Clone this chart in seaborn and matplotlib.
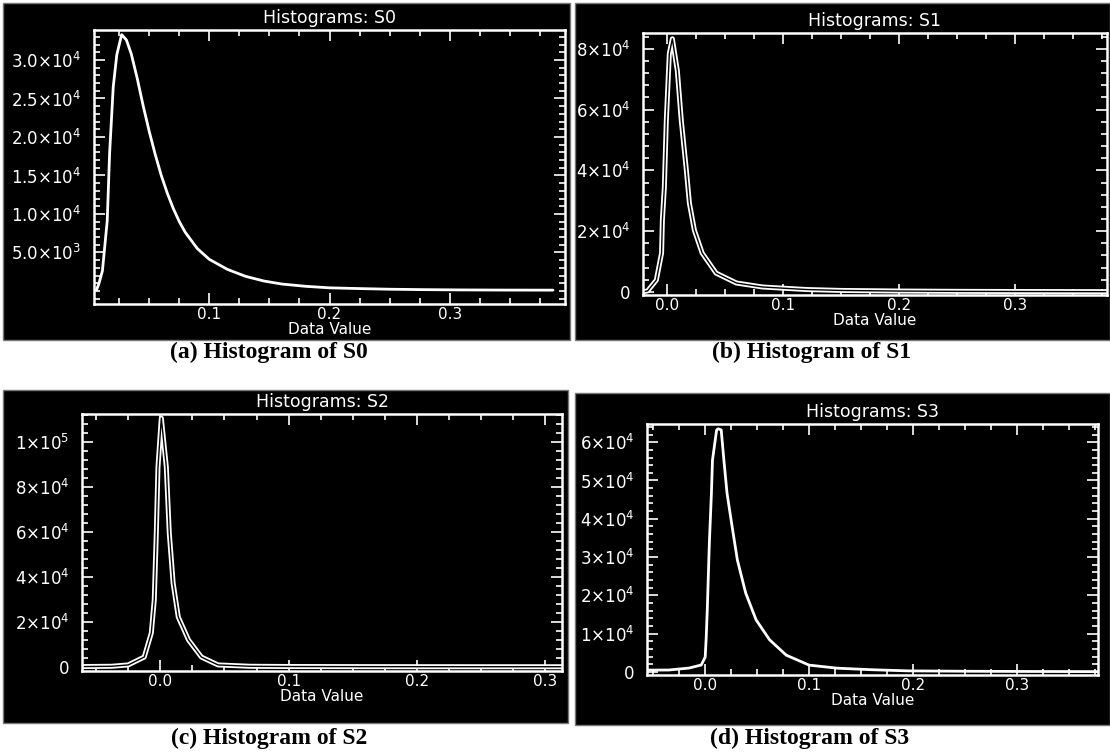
import numpy as np
import pandas as pd
import matplotlib
matplotlib.use("Agg")
import matplotlib.pyplot as plt
import seaborn as sns
from matplotlib.ticker import AutoMinorLocator, FixedLocator
from matplotlib.patches import Rectangle

# ---------------- data ----------------
s0_x = [0.006, 0.008, 0.011, 0.015, 0.017, 0.020, 0.023, 0.027, 0.031, 0.035,
        0.040, 0.045, 0.050, 0.055, 0.060, 0.065, 0.070, 0.075, 0.080, 0.090,
        0.100, 0.115, 0.130, 0.145, 0.160, 0.180, 0.200, 0.226, 0.250, 0.276,
        0.309, 0.342, 0.386]
s0_y = [100, 900, 2600, 9100, 17900, 26500, 30700, 33300, 32600, 30800,
        27600, 24000, 20700, 17700, 15000, 12700, 10700, 9000, 7600, 5500,
        4100, 2800, 1900, 1300, 900, 600, 400, 300, 220, 170,
        130, 110, 100]

s1_x = [-0.020, -0.017, -0.0095, -0.005, -0.0043, -0.0026, -0.0009, 0.0017, 0.0043,
        0.0086, 0.012, 0.0164, 0.019, 0.0233, 0.030, 0.042, 0.0595, 0.082, 0.097,
        0.12, 0.15, 0.20, 0.25, 0.30, 0.379]
s1_y = [100, 350, 3900, 12800, 23600, 34400, 56400, 78400, 83300,
        72800, 56400, 40000, 29200, 20300, 12800, 6200, 2950, 1640, 1300,
        800, 500, 300, 200, 150, 100]

s2_x = [-0.061, -0.056, -0.038, -0.025, -0.0125, -0.007, -0.0047, -0.0031, -0.0018,
        0.0008, 0.0047, 0.007, 0.010, 0.014, 0.022, 0.032, 0.045, 0.070, 0.10,
        0.15, 0.20, 0.25, 0.313]
s2_y = [150, 200, 300, 900, 4400, 15100, 29800, 59500, 88800,
        110600, 88800, 59500, 37300, 22200, 12000, 4400, 900, 300, 200,
        150, 120, 100, 100]

s3_x = [-0.056, -0.035, -0.0154, -0.0038, 0.0, 0.001, 0.002, 0.004, 0.006, 0.007,
        0.011, 0.0125, 0.0154, 0.018, 0.021, 0.026, 0.031, 0.039, 0.049, 0.062,
        0.078, 0.100, 0.127, 0.16, 0.195, 0.25, 0.30, 0.378]
s3_y = [500, 520, 1040, 1830, 3900, 9100, 16200, 33700, 46700, 55300,
        63200, 63500, 63200, 55300, 46700, 37800, 29200, 20600, 13600, 8400,
        4400, 1800, 1000, 600, 300, 200, 150, 100]

titles = ["Histograms: S0", "Histograms: S1", "Histograms: S2", "Histograms: S3"]
captions = ["(a) Histogram of S0", "(b) Histogram of S1",
            "(c) Histogram of S2", "(d) Histogram of S3"]
x_label = "Data Value"

s0_xticks = [0.1, 0.2, 0.3]
s0_xticklabels = ["0.1", "0.2", "0.3"]
sx_xticks = [0.0, 0.1, 0.2, 0.3]
sx_xticklabels = ["0.0", "0.1", "0.2", "0.3"]

s0_yticks = [5e3, 1e4, 1.5e4, 2e4, 2.5e4, 3e4]
s0_yticklabels = [r"$5.0{\times}10^{3}$", r"$1.0{\times}10^{4}$", r"$1.5{\times}10^{4}$",
                  r"$2.0{\times}10^{4}$", r"$2.5{\times}10^{4}$", r"$3.0{\times}10^{4}$"]
s1_yticks = [0, 2e4, 4e4, 6e4, 8e4]
s1_yticklabels = ["0", r"$2{\times}10^{4}$", r"$4{\times}10^{4}$", r"$6{\times}10^{4}$",
                  r"$8{\times}10^{4}$"]
s2_yticks = [0, 2e4, 4e4, 6e4, 8e4, 1e5]
s2_yticklabels = ["0", r"$2{\times}10^{4}$", r"$4{\times}10^{4}$", r"$6{\times}10^{4}$",
                  r"$8{\times}10^{4}$", r"$1{\times}10^{5}$"]
s3_yticks = [0, 1e4, 2e4, 3e4, 4e4, 5e4, 6e4]
s3_yticklabels = ["0", r"$1{\times}10^{4}$", r"$2{\times}10^{4}$", r"$3{\times}10^{4}$",
                  r"$4{\times}10^{4}$", r"$5{\times}10^{4}$", r"$6{\times}10^{4}$"]

# ---------------- style ----------------
sns.set_theme(style="ticks")
plt.rcParams["font.family"] = ["DejaVu Sans"]
plt.rcParams["mathtext.fontset"] = "dejavusans"

W, H = 1110, 755
fig = plt.figure(figsize=(W / 100, H / 100), dpi=100)
fig.patch.set_facecolor("white")


def frac(x0, y0, x1, y1):
    return [x0 / W, 1 - y1 / H, (x1 - x0) / W, (y1 - y0) / H]


panels = [
    dict(x=s0_x, y=s0_y, bg=(3, 3, 570, 340), ax=(94, 30, 565, 304),
         xlim=(0.004, 0.396), ylim=(-1700, 33900),
         xt=s0_xticks, xtl=s0_xticklabels, yt=s0_yticks, ytl=s0_yticklabels,
         cap=(269, 352), hollow=False),
    dict(x=s1_x, y=s1_y, bg=(575, 3, 1110, 340), ax=(643, 33, 1107, 295),
         xlim=(-0.021, 0.379), ylim=(-1000, 85200),
         xt=sx_xticks, xtl=sx_xticklabels, yt=s1_yticks, ytl=s1_yticklabels,
         cap=(812, 352), hollow=True),
    dict(x=s2_x, y=s2_y, bg=(3, 390, 568, 723), ax=(82, 414, 562, 671),
         xlim=(-0.061, 0.313), ylim=(-1800, 112400),
         xt=sx_xticks, xtl=sx_xticklabels, yt=s2_yticks, ytl=s2_yticklabels,
         cap=(269, 738), hollow=True),
    dict(x=s3_x, y=s3_y, bg=(575, 393, 1110, 725), ax=(647, 424, 1098, 675),
         xlim=(-0.056, 0.378), ylim=(-780, 64750),
         xt=sx_xticks, xtl=sx_xticklabels, yt=s3_yticks, ytl=s3_yticklabels,
         cap=(810, 738), hollow=False),
]

for i, p in enumerate(panels):
    x0, y0, x1, y1 = p["bg"]
    fig.add_artist(Rectangle((x0 / W, 1 - y1 / H), (x1 - x0) / W, (y1 - y0) / H,
                             transform=fig.transFigure, facecolor="black",
                             edgecolor="#777777", lw=1.0, zorder=-5))
    ax = fig.add_axes(frac(*p["ax"]))
    ax.set_facecolor("black")
    df = pd.DataFrame({"value": p["x"], "count": p["y"]})
    if p["hollow"]:
        sns.lineplot(data=df, x="value", y="count", ax=ax, color="white", lw=3.6,
                     estimator=None, sort=False)
        sns.lineplot(data=df, x="value", y="count", ax=ax, color="black", lw=1.0,
                     estimator=None, sort=False)
    else:
        sns.lineplot(data=df, x="value", y="count", ax=ax, color="white", lw=2.0,
                     estimator=None, sort=False)
    ax.set_xlim(*p["xlim"])
    ax.set_ylim(*p["ylim"])
    ax.xaxis.set_major_locator(FixedLocator(p["xt"]))
    ax.set_xticklabels(p["xtl"])
    ax.yaxis.set_major_locator(FixedLocator(p["yt"]))
    ax.set_yticklabels(p["ytl"])
    ax.xaxis.set_minor_locator(AutoMinorLocator(4))
    ax.yaxis.set_minor_locator(AutoMinorLocator(5))
    ax.tick_params(which="both", direction="in", colors="white", top=True, right=True,
                   width=1.2)
    ax.tick_params(axis="x", which="major", labelsize=11, pad=2)
    ax.tick_params(axis="y", which="major", labelsize=12, pad=9)
    ax.tick_params(which="major", length=8)
    ax.tick_params(which="minor", length=4)
    for sp in ax.spines.values():
        sp.set_color("white")
        sp.set_linewidth(1.8)
    ax.set_title(titles[i], color="white", fontsize=12.5, pad=5)
    ax.set_xlabel(x_label, color="white", fontsize=11, labelpad=0)
    ax.set_ylabel("")
    fig.text(p["cap"][0] / W, 1 - p["cap"][1] / H, captions[i], ha="center",
             va="center", fontsize=17, fontweight="bold",
             family=["Liberation Serif", "DejaVu Serif"], color="black")

fig.savefig("out.png", dpi=100, facecolor="white")
